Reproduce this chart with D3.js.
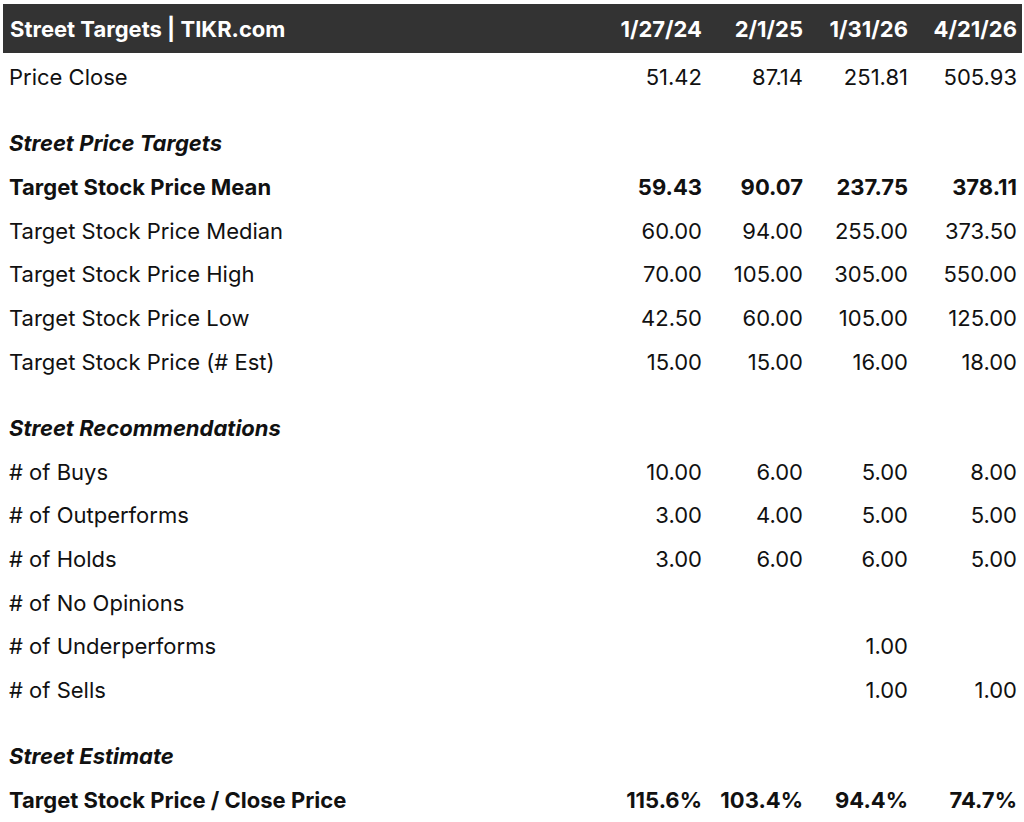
<!DOCTYPE html>
<html><head><meta charset="utf-8">
<script src="https://cdn.jsdelivr.net/npm/d3@7"></script>
<style>body{margin:0;background:#fff}text{font-family:Inter,"Open Sans",sans-serif}</style>
</head><body>
<script>
const title = "Street Targets | TIKR.com";
const dates = ["1/27/24","2/1/25","1/31/26","4/21/26"];
const priceClose = ["51.42","87.14","251.81","505.93"];
const targetMean = ["59.43","90.07","237.75","378.11"];
const targetMedian = ["60.00","94.00","255.00","373.50"];
const targetHigh = ["70.00","105.00","305.00","550.00"];
const targetLow = ["42.50","60.00","105.00","125.00"];
const targetEst = ["15.00","15.00","16.00","18.00"];
const buys = ["10.00","6.00","5.00","8.00"];
const outperforms = ["3.00","4.00","5.00","5.00"];
const holds = ["3.00","6.00","6.00","5.00"];
const noOpinions = ["","","",""];
const underperforms = ["","","1.00",""];
const sells = ["","","1.00","1.00"];
const ratio = ["115.6%","103.4%","94.4%","74.7%"];

const rows = [
 {t:"row",label:"Price Close",v:priceClose},
 {t:"gap"},
 {t:"sec",label:"Street Price Targets"},
 {t:"row",label:"Target Stock Price Mean",v:targetMean,bold:true},
 {t:"row",label:"Target Stock Price Median",v:targetMedian},
 {t:"row",label:"Target Stock Price High",v:targetHigh},
 {t:"row",label:"Target Stock Price Low",v:targetLow},
 {t:"row",label:"Target Stock Price (# Est)",v:targetEst},
 {t:"gap"},
 {t:"sec",label:"Street Recommendations"},
 {t:"row",label:"# of Buys",v:buys},
 {t:"row",label:"# of Outperforms",v:outperforms},
 {t:"row",label:"# of Holds",v:holds},
 {t:"row",label:"# of No Opinions",v:noOpinions},
 {t:"row",label:"# of Underperforms",v:underperforms},
 {t:"row",label:"# of Sells",v:sells},
 {t:"gap"},
 {t:"sec",label:"Street Estimate"},
 {t:"row",label:"Target Stock Price / Close Price",v:ratio,bold:true},
];
let u=0; rows.forEach(r=>{ if(r.t==="gap"){u+=0.52;} else {r.u=u; u+=1;} });
const W=1024,H=822;
const svg=d3.select("body").append("svg").attr("width",W).attr("height",H);
const y=d3.scaleLinear().domain([0,u-1]).range([77,800]);
const x=d3.scaleOrdinal().domain(dates).range([702,803,908,1017]);
svg.append("rect").attr("x",3).attr("y",4).attr("width",1019).attr("height",49).attr("fill","#333333");
svg.append("text").attr("x",10).attr("y",29).attr("dy","0.36em").attr("fill","#fff").attr("font-weight",700).attr("font-size",22).text(title);
svg.selectAll(".h").data(dates).join("text").attr("x",d=>x(d)).attr("y",29).attr("dy","0.36em").attr("text-anchor","end").attr("fill","#fff").attr("font-weight",700).attr("font-size",22).text(d=>d);
const g=svg.selectAll(".r").data(rows.filter(r=>r.t!=="gap")).join("g").attr("transform",d=>`translate(0,${y(d.u)})`);
g.append("text").attr("x",9).attr("dy","0.36em").attr("font-size",22).attr("fill","#111")
 .attr("font-weight",d=>d.t==="sec"||d.bold?700:400).attr("font-style",d=>d.t==="sec"?"italic":"normal").text(d=>d.label);
g.filter(d=>d.v).selectAll(".v").data(d=>d.v.map((v,i)=>({v,i,b:d.bold}))).join("text")
 .attr("x",d=>x(dates[d.i])).attr("dy","0.36em").attr("text-anchor","end").attr("font-size",22).attr("fill","#111")
 .attr("font-weight",d=>d.b?700:400).text(d=>d.v);
</script></body></html>
